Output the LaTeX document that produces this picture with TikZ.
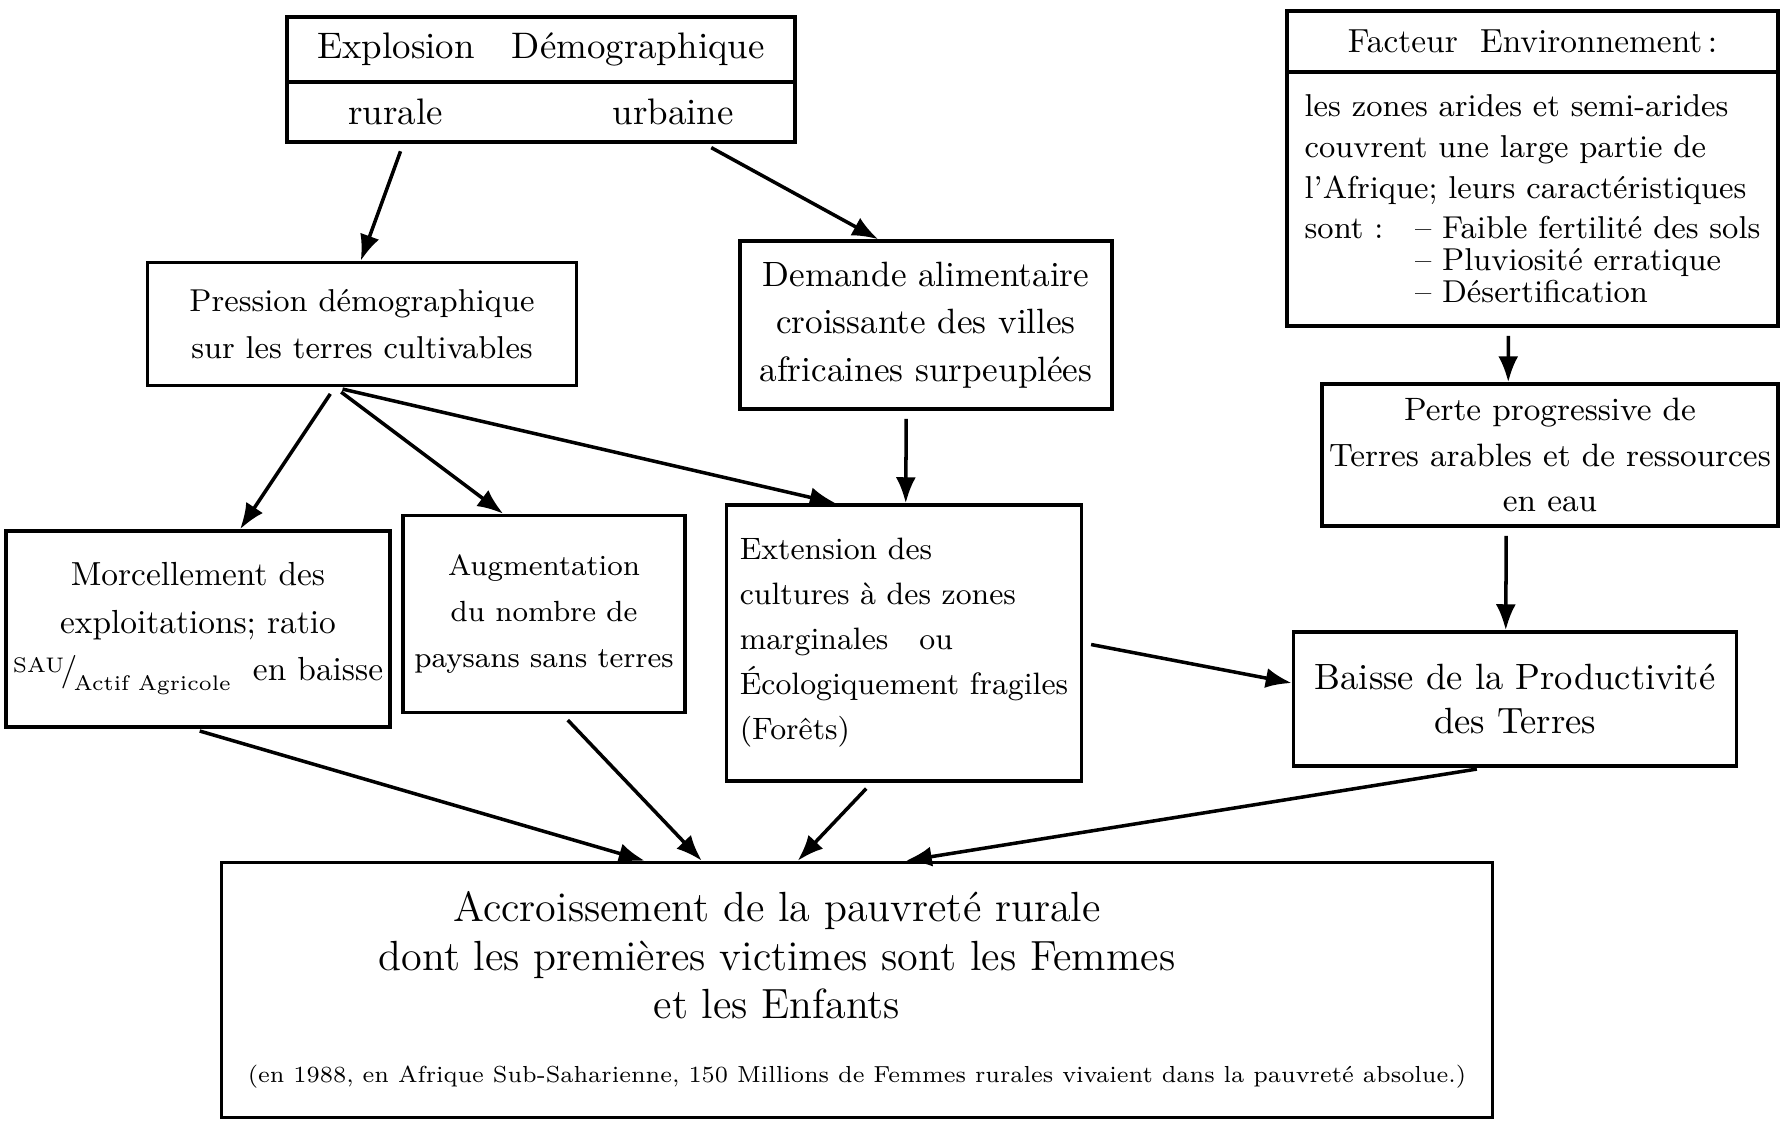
\documentclass[tikz,border=0pt]{standalone}
\usepackage{fontspec}
\usetikzlibrary{arrows.meta}

\begin{document}
\begin{tikzpicture}[
  x=0.1mm, y=-0.1mm,
  >={Latex[length=2.6mm,width=2mm]},
  box/.style={draw, line width=1pt, inner sep=2pt, align=center,
    font=\fontsize{9.5}{13.5}\selectfont},
  link/.style={->, line width=1pt, shorten <=0.8mm}
]
  \useasboundingbox (0,0) rectangle (1780,1121);

  \node[box, minimum width=50.8mm, minimum height=6.5mm, font=\fontsize{10.5}{13}\selectfont] (explT) at (541,49.5) {Explosion\quad Démographique};
  \node[box, minimum width=50.8mm, minimum height=6mm, font=\fontsize{10.5}{13}\selectfont] (expl) at (541,112) {rurale\hspace{17mm}urbaine};

  \node[box, minimum width=49.1mm, minimum height=6.1mm] (factT) at (1532.5,41.5) {Facteur\ \ Environnement\,:};
  \node[box, align=left, minimum width=49.1mm, minimum height=25.4mm,
    font=\fontsize{9}{11.6}\selectfont] (fact) at (1532.5,199)
    {les zones arides et semi-arides\\
     couvrent une large partie de\\
     l'Afrique; leurs caractéristiques\\
     sont :\quad -- Faible fertilité des sols\\[-2.5pt]
     \hphantom{sont :\quad }-- Pluviosité erratique\\[-2.5pt]
     \hphantom{sont :\quad }-- Désertification};

  \node[box, font=\fontsize{9}{13.5}\selectfont, minimum width=42.9mm, minimum height=12.3mm] (pres) at (362,324) {Pression démographique\\ sur les terres cultivables};
  \node[box, font=\fontsize{10}{13.5}\selectfont, minimum width=37.2mm, minimum height=16.8mm] (dem) at (926,325) {Demande alimentaire\\ croissante des villes\\ africaines surpeuplées};
  \node[box, font=\fontsize{9.2}{13}\selectfont, minimum width=45.6mm, minimum height=14.2mm] (perte) at (1550,455) {Perte progressive de\\ Terres arables et de ressources\\ en eau};

  \node[box, minimum width=36.4mm, minimum height=19.6mm] (morc) at (198,629) {Morcellement des\\ exploitations; ratio\\
    \raisebox{0.6ex}{\fontsize{6}{7}\selectfont SAU}\kern-1pt/\kern-1pt\raisebox{-0.7ex}{\fontsize{6}{7}\selectfont Actif Agricole}\ \ en baisse};
  \node[box, font=\fontsize{8.3}{13}\selectfont, minimum width=28.2mm, minimum height=19.7mm] (aug) at (544,614) {Augmentation\\ du nombre de\\ paysans sans terres};
  \node[box, align=left, font=\fontsize{8.8}{12.8}\selectfont, minimum width=35.5mm, minimum height=27.6mm] (ext) at (904,643) {Extension des\\ cultures à des zones\\ marginales\quad ou\\ Écologiquement fragiles\\ (Forêts)};
  \node[box, font=\fontsize{10.4}{12.5}\selectfont, minimum width=44.3mm, minimum height=13.4mm] (baisse) at (1515,699) {Baisse de la Productivité\\ des Terres};

  \node[box, minimum width=127.1mm, minimum height=25.5mm, font=\fontsize{12}{13.8}\selectfont] (accr) at (857,990)
    {\hspace*{-16mm}Accroissement de la pauvreté rurale\\
     \hspace*{-16mm}dont les premières victimes sont les Femmes\\
     \hspace*{-16mm}et les Enfants\\[1.5mm]
     {\fontsize{6.6}{9}\selectfont (en 1988, en Afrique Sub-Saharienne, 150 Millions de Femmes rurales vivaient dans la pauvreté absolue.)}};

  \path[link]
    ([xshift=11.8mm]expl.south west) edge ([xshift=21.5mm]pres.north west)
    ([xshift=41.9mm]expl.south west) edge ([xshift=14mm]dem.north west)
    ([xshift=18.9mm]pres.south west) edge ([xshift=23.6mm]morc.north west)
    ([xshift=18.9mm]pres.south west) edge ([xshift=10.2mm]aug.north west)
    ([xshift=18.9mm]pres.south west) edge ([xshift=11.1mm]ext.north west)
    ([xshift=16.8mm]dem.south west) edge ([xshift=18.1mm]ext.north west)
    ([xshift=22.3mm]fact.south west) edge ([xshift=18.8mm]perte.north west)
    ([xshift=18.6mm]perte.south west) edge ([xshift=21.4mm]baisse.north west)
    (ext.east) edge ([yshift=1.6mm]baisse.west)
    ([xshift=18.8mm]morc.south west) edge ([xshift=42.5mm]accr.north west)
    ([xshift=16.1mm]aug.south west) edge ([xshift=48.2mm]accr.north west)
    ([xshift=14.7mm]ext.south west) edge ([xshift=57.8mm]accr.north west)
    ([xshift=19.3mm]baisse.south west) edge ([xshift=68.6mm]accr.north west);
\end{tikzpicture}
\end{document}
